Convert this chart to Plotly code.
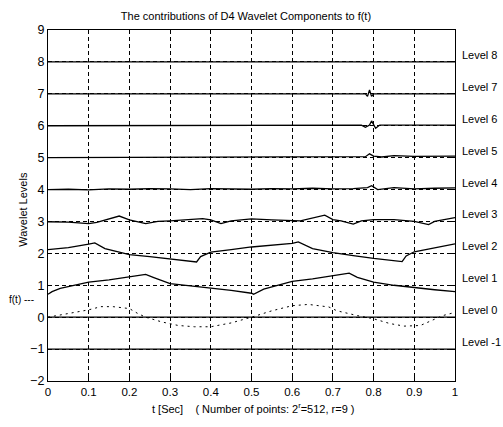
import plotly.graph_objects as go

# ---------------- data ----------------
t_f = [0, 0.04, 0.1, 0.13, 0.16, 0.2, 0.22, 0.24, 0.28, 0.32, 0.36, 0.4, 0.45, 0.5,
       0.55, 0.6, 0.64, 0.69, 0.71, 0.76, 0.8, 0.84, 0.875, 0.915, 0.97, 1.0]
f_vals = [0, 0.1, 0.23, 0.33, 0.33, 0.27, 0.12, 0.0, -0.15, -0.26, -0.3, -0.3, -0.18, 0.0,
          0.2, 0.36, 0.4, 0.32, 0.2, 0.05, -0.05, -0.2, -0.28, -0.26, 0.05, 0.15]

t_l1 = [0, 0.01, 0.03, 0.1, 0.15, 0.2, 0.22, 0.24, 0.26, 0.3, 0.35, 0.4, 0.45, 0.5, 0.505,
        0.53, 0.6, 0.65, 0.7, 0.74, 0.76, 0.8, 0.85, 0.9, 0.95, 1.0]
v_l1 = [0.72, 0.8, 0.9, 1.1, 1.17, 1.26, 1.3, 1.34, 1.24, 1.05, 0.98, 0.92, 0.84, 0.75, 0.72,
        0.88, 1.12, 1.2, 1.3, 1.38, 1.25, 1.1, 1.0, 0.92, 0.86, 0.8]

t_l2 = [0, 0.05, 0.1, 0.115, 0.14, 0.2, 0.25, 0.3, 0.365, 0.375, 0.4, 0.45, 0.5, 0.6, 0.615,
        0.65, 0.7, 0.75, 0.8, 0.87, 0.88, 0.9, 0.95, 1.0]
v_l2 = [2.12, 2.18, 2.29, 2.33, 2.15, 1.96, 1.9, 1.83, 1.73, 1.9, 2.04, 2.12, 2.2, 2.31, 2.36,
        2.15, 2.02, 1.93, 1.84, 1.74, 1.92, 2.05, 2.18, 2.3]

t_l3 = [0, 0.05, 0.1, 0.12, 0.175, 0.2, 0.24, 0.27, 0.3, 0.38, 0.4, 0.425, 0.45, 0.5, 0.55,
        0.6, 0.62, 0.68, 0.7, 0.72, 0.75, 0.77, 0.8, 0.85, 0.9, 0.935, 0.95, 1.0]
v_l3 = [2.99, 2.98, 2.93, 2.97, 3.17, 3.05, 2.93, 3.0, 3.02, 3.09, 3.05, 2.93, 3.02, 3.08, 3.05,
        3.02, 3.02, 3.2, 3.06, 3.02, 2.92, 3.02, 3.06, 3.06, 3.0, 2.9, 3.0, 3.12]

t_l4 = [0, 0.05, 0.1, 0.15, 0.2, 0.25, 0.3, 0.35, 0.4, 0.45, 0.5, 0.55, 0.6, 0.65, 0.7, 0.75,
        0.785, 0.795, 0.81, 0.85, 0.9, 0.95, 1.0]
v_l4 = [4.0, 4.01, 3.99, 4.02, 4.01, 4.03, 4.02, 4.0, 4.03, 4.02, 4.01, 4.03, 4.02, 4.04, 4.02,
        4.03, 4.06, 4.12, 4.0, 4.06, 4.02, 4.04, 4.05]

t_l5 = [0, 0.2, 0.4, 0.6, 0.7, 0.78, 0.79, 0.8, 0.82, 0.85, 0.9, 1.0]
v_l5 = [5.0, 5.01, 5.02, 5.03, 5.03, 5.03, 5.12, 5.05, 5.02, 5.06, 5.04, 5.05]

t_l6 = [0, 0.5, 0.77, 0.78, 0.79, 0.795, 0.805, 0.815, 1.0]
v_l6 = [6.0, 6.02, 6.02, 5.95, 6.02, 6.15, 5.92, 6.02, 6.02]

t_l7 = [0, 0.5, 0.78, 0.785, 0.79, 0.795, 0.8, 1.0]
v_l7 = [7.0, 7.0, 7.0, 6.92, 7.12, 6.92, 7.0, 7.0]

t_l8 = [0, 1.0]
v_l8 = [8.0, 8.0]

t_l0 = [0, 1.0]
v_l0 = [0.0, 0.0]

t_lm1 = [0, 1.0]
v_lm1 = [-1.0, -1.0]

level_names = ["Level 8", "Level 7", "Level 6", "Level 5", "Level 4", "Level 3",
               "Level 2", "Level 1", "Level 0", "Level -1"]
level_values = [8, 7, 6, 5, 4, 3, 2, 1, 0, -1]

x_ticks = [0, 0.1, 0.2, 0.3, 0.4, 0.5, 0.6, 0.7, 0.8, 0.9, 1.0]
x_ticktext = ["0", "0.1", "0.2", "0.3", "0.4", "0.5", "0.6", "0.7", "0.8", "0.9", "1"]
y_ticks = [9, 8, 7, 6, 5, 4, 3, 2, 1, 0, -1, -2]

# ---------------- figure ----------------
FONT = "Liberation Sans, Arial, sans-serif"
fig = go.Figure()

series = [(t_l8, v_l8), (t_l7, v_l7), (t_l6, v_l6), (t_l5, v_l5), (t_l4, v_l4),
          (t_l3, v_l3), (t_l2, v_l2), (t_l1, v_l1), (t_l0, v_l0), (t_lm1, v_lm1)]
for (tt, vv), name in zip(series, level_names):
    fig.add_trace(go.Scatter(x=tt, y=vv, mode="lines", name=name,
                             line=dict(color="black", width=1.3), showlegend=False))

fig.add_trace(go.Scatter(x=t_f, y=f_vals, mode="lines", name="f(t)",
                         line=dict(color="black", width=1, dash="2px,4px"),
                         showlegend=False))

annotations = []
for name, lv in zip(level_names, level_values):
    annotations.append(dict(x=1.0, y=lv + 0.22, xref="x", yref="y", text=name,
                            showarrow=False, xanchor="left", yanchor="middle", xshift=5,
                            font=dict(family=FONT, size=11, color="black")))

annotations.append(dict(x=-0.1, y=0.55, xref="paper", yref="y", text="f(t) ---",
                        showarrow=False, xanchor="left", yanchor="middle",
                        font=dict(family=FONT, size=10, color="black")))
annotations.append(dict(x=-0.062, y=0.49, xref="paper", yref="paper", text="Wavelet Levels",
                        showarrow=False, xanchor="center", yanchor="middle", textangle=-90,
                        font=dict(family=FONT, size=11, color="black")))
annotations.append(dict(x=0.505, y=-0.077, xref="paper", yref="paper",
                        text="t [Sec]\u00a0\u00a0\u00a0\u00a0( Number of points: 2<sup>r</sup>=512, r=9 )",
                        showarrow=False, xanchor="center", yanchor="middle",
                        font=dict(family=FONT, size=11, color="black")))

fig.update_layout(
    width=503, height=427,
    margin=dict(l=48, r=48, t=30, b=46),
    paper_bgcolor="white", plot_bgcolor="white",
    title=dict(text="The contributions of D4 Wavelet Components to f(t)",
               x=0.489, xanchor="center", y=0.962, yanchor="middle",
               font=dict(family=FONT, size=11, color="black")),
    annotations=annotations,
    showlegend=False,
)

fig.update_xaxes(range=[0, 1], tickvals=x_ticks, ticktext=x_ticktext,
                 showgrid=True, gridcolor="black", gridwidth=1, griddash="4px,3px",
                 showline=True, linecolor="black", linewidth=1.3, mirror="ticks",
                 ticks="inside", ticklen=4, tickcolor="black", zeroline=False,
                 tickfont=dict(family=FONT, size=11.5, color="black"))
fig.update_yaxes(range=[-2, 9], tickvals=y_ticks,
                 showgrid=True, gridcolor="black", gridwidth=1, griddash="4px,3px",
                 showline=True, linecolor="black", linewidth=1.3, mirror="ticks",
                 ticks="inside", ticklen=4, tickcolor="black", zeroline=False,
                 tickfont=dict(family=FONT, size=12.5, color="black"))

fig.write_html("out.html")
